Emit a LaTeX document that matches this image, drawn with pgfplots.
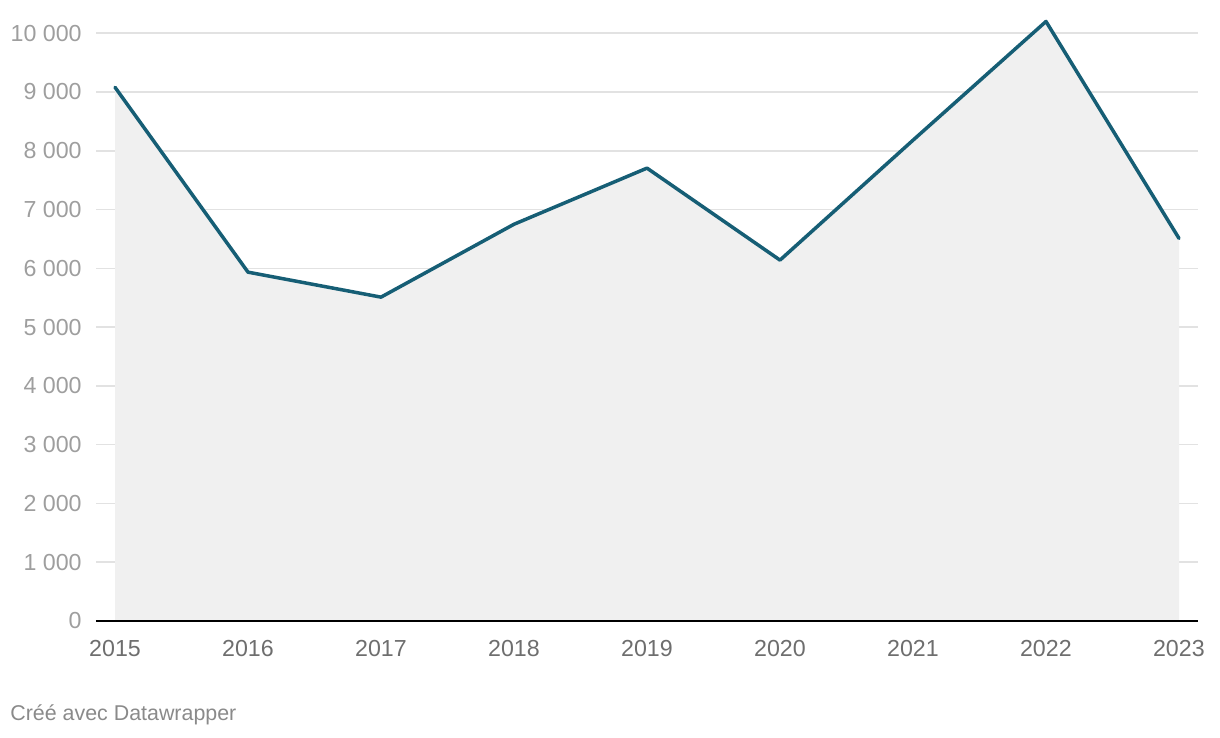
\documentclass[border=0pt]{standalone}
\usepackage{fontspec}
\setmainfont{Liberation Sans}
\usepackage{pgfplots}
\pgfplotsset{compat=1.18}
\definecolor{lineblue}{HTML}{165E75}
\definecolor{areafill}{HTML}{F0F0F0}
\definecolor{gridgray}{HTML}{E2E2E2}
\definecolor{ylab}{HTML}{9E9E9E}
\definecolor{xlab}{HTML}{6E6E6E}
\definecolor{foot}{HTML}{8A8A8A}
\begin{document}
\begin{tikzpicture}[x=0.5pt,y=0.5pt]
% page size = 1220 x 738 px, axis lower left at (96,621) px
\useasboundingbox (-96,-117) rectangle (1124,621);
\begin{axis}[
  at={(0,0)}, anchor=origin,
  scale only axis,
  width=551pt, height=302.7pt,
  xmin=2014.857, xmax=2023.143,
  ymin=0, ymax=10300,
  axis line style={draw=none},
  major tick length=0pt,
  xtick={2015,...,2023},
  xticklabels={2015,2016,2017,2018,2019,2020,2021,2022,2023},
  ytick={0,1000,...,10000},
  scaled y ticks=false,
  ymajorgrids,
  grid style={gridgray, line width=0.75pt},
  font=\fontsize{11.6pt}{14pt}\selectfont,
  /pgf/number format/assume math mode=true,
  /pgf/number format/1000 sep={\ },
  yticklabel style={text=ylab, inner sep=0pt, xshift=-7pt},
  xticklabel style={text=xlab, inner sep=0pt, yshift=-9.5pt},
  clip=false,
]
\addplot[draw=none, fill=areafill] coordinates {
  (2015,9080) (2016,5935) (2017,5510) (2018,6750) (2019,7705)
  (2020,6140) (2021,8180) (2022,10200) (2023,6510)
} \closedcycle;
\addplot[lineblue, line width=1.75pt, line join=round, line cap=round] coordinates {
  (2015,9080) (2016,5935) (2017,5510) (2018,6750) (2019,7705)
  (2020,6140) (2021,8180) (2022,10200) (2023,6510)
};
\draw[black, line width=1pt] (rel axis cs:0,0) -- (rel axis cs:1,0);
\end{axis}
\node[anchor=west, inner sep=0pt, text=foot, font=\fontsize{10.7pt}{13pt}\selectfont] at (-86,-94) {Créé avec Datawrapper};
\end{tikzpicture}
\end{document}
